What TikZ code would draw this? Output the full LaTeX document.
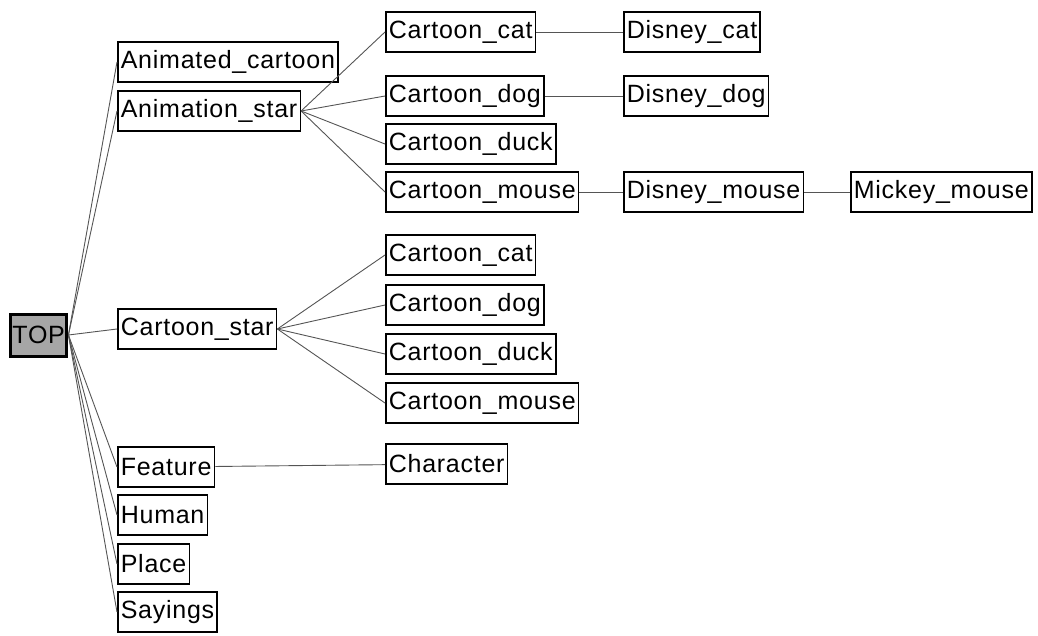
\documentclass[tikz,border=0pt]{standalone}
\usepackage{fontspec}
\setmainfont[LetterSpace=3]{Liberation Sans}
\usetikzlibrary{positioning}
\definecolor{edge}{HTML}{555555}
\definecolor{rootfill}{HTML}{A6A6A6}

\begin{document}
\begin{tikzpicture}[x=1pt,y=-1pt,
  concept/.style={draw=black,line width=1.6pt,fill=white,anchor=west,minimum height=40pt,inner xsep=3pt,inner ysep=0pt,font=\fontsize{25}{28}\selectfont},
  link/.style={edge,line width=0.9pt}]
  \useasboundingbox (0,0) rectangle (1038,635);
  \node[concept,fill=rootfill,line width=3pt,minimum height=42pt,inner xsep=2pt] (top) at (9,335){TOP};
  % first level
  \node[concept] (anicart) at (117,62){Animated\_cartoon};
  \node[concept] (anistar) at (117,111){Animation\_star};
  \node[concept] (cstar) at (117,329){Cartoon\_star};
  \node[concept] (feature) at (117,467){Feature};
  \node[concept] (human) at (117,515){Human};
  \node[concept] (place) at (117,564){Place};
  \node[concept] (sayings) at (117,612){Sayings};
  % under Animation_star
  \node[concept] (acat) at (385,32){Cartoon\_cat};
  \node[concept] (adog) at (385,96){Cartoon\_dog};
  \node[concept] (aduck) at (385,144){Cartoon\_duck};
  \node[concept] (amouse) at (385,192){Cartoon\_mouse};
  \node[concept] (dcat) at (623,32){Disney\_cat};
  \node[concept] (ddog) at (623,96){Disney\_dog};
  \node[concept] (dmouse) at (623,192){Disney\_mouse};
  \node[concept] (mickey) at (850,192){Mickey\_mouse};
  % under Cartoon_star
  \node[concept] (scat) at (385,255){Cartoon\_cat};
  \node[concept] (sdog) at (385,305){Cartoon\_dog};
  \node[concept] (sduck) at (385,354){Cartoon\_duck};
  \node[concept] (smouse) at (385,403){Cartoon\_mouse};
  \node[concept] (character) at (385,464){Character};

  \foreach \n in {anicart,anistar,cstar,feature,human,place,sayings}
    \draw[link] (top.east)--(\n.west);
  \foreach \n in {acat,adog,aduck,amouse}
    \draw[link] (anistar.east)--(\n.west);
  \foreach \n in {scat,sdog,sduck,smouse}
    \draw[link] (cstar.east)--(\n.west);
  \draw[link] (acat)--(dcat);
  \draw[link] (adog)--(ddog);
  \draw[link] (amouse)--(dmouse);
  \draw[link] (dmouse)--(mickey);
  \draw[link] (feature)--(character);
\end{tikzpicture}
\end{document}
